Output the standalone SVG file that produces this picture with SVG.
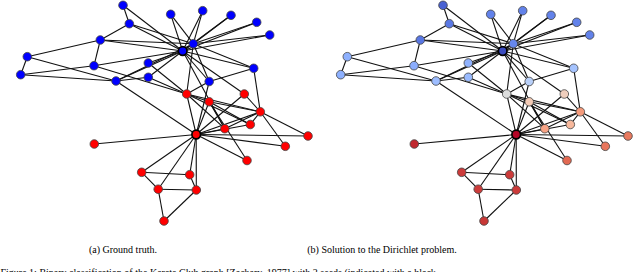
<svg xmlns="http://www.w3.org/2000/svg" xmlns:xlink="http://www.w3.org/1999/xlink" width="640" height="272" viewBox="0 0 640 272">
<style>
.e path{stroke:#111;stroke-width:1.1;fill:none}
.n{stroke:#444;stroke-width:0.8}
.s{stroke:#000;stroke-width:1.7}
.b{fill:#0000ff}
.r{fill:#ff0000}
text{font-family:"Liberation Serif","Times New Roman",serif;font-size:10px;fill:#000}
</style>
<rect width="640" height="272" fill="#fff"/>
<g id="edges-a" class="e">
<path d="M196.2 134.5L260.3 111.8"/><path d="M196.2 134.5L186.7 94"/><path d="M196.2 134.5L209.2 101.8"/><path d="M196.2 134.5L141.7 172.3"/>
<path d="M196.2 134.5L196.3 190"/><path d="M196.2 134.5L158.2 189.2"/><path d="M196.2 134.5L250.3 124.5"/><path d="M196.2 134.5L209.2 81.5"/>
<path d="M196.2 134.5L189.7 174.7"/><path d="M196.2 134.5L94.3 144"/><path d="M196.2 134.5L247 160.5"/><path d="M196.2 134.5L224.8 128.7"/>
<path d="M196.2 134.5L308 136"/><path d="M196.2 134.5L244.3 94"/><path d="M196.2 134.5L285.3 146.3"/><path d="M196.2 134.5L116 81"/>
<path d="M260.3 111.8L186.7 94"/><path d="M260.3 111.8L209.2 101.8"/><path d="M260.3 111.8L250.3 124.5"/><path d="M260.3 111.8L224.8 128.7"/>
<path d="M260.3 111.8L308 136"/><path d="M260.3 111.8L244.3 94"/><path d="M260.3 111.8L285.3 146.3"/><path d="M260.3 111.8L253.7 68.3"/>
<path d="M186.7 94L209.2 101.8"/><path d="M186.7 94L250.3 124.5"/><path d="M186.7 94L209.2 81.5"/><path d="M186.7 94L148.3 63"/>
<path d="M186.7 94L224.8 128.7"/><path d="M186.7 94L94 65.7"/><path d="M186.7 94L148.3 77.3"/><path d="M186.7 94L193.3 43.7"/>
<path d="M209.2 101.8L250.3 124.5"/><path d="M209.2 101.8L247 160.5"/><path d="M209.2 101.8L224.8 128.7"/>
<path d="M141.7 172.3L158.2 189.2"/><path d="M141.7 172.3L189.7 174.7"/>
<path d="M196.3 190L158.2 189.2"/><path d="M196.3 190L189.7 174.7"/><path d="M196.3 190L164 221"/><path d="M158.2 189.2L164 221"/>
<path d="M209.2 81.5L253.7 68.3"/><path d="M209.2 81.5L193.3 43.7"/><path d="M209.2 81.5L182.7 51"/>
<path d="M148.3 63L182.7 51"/><path d="M224.8 128.7L182.7 51"/>
<path d="M170.7 14.3L193.3 43.7"/><path d="M170.7 14.3L182.7 51"/>
<path d="M202.7 10.7L193.3 43.7"/><path d="M202.7 10.7L182.7 51"/>
<path d="M231 15.3L193.3 43.7"/><path d="M231 15.3L182.7 51"/>
<path d="M244.3 94L182.7 51"/>
<path d="M256.7 22.3L193.3 43.7"/><path d="M256.7 22.3L182.7 51"/>
<path d="M269.7 35L193.3 43.7"/><path d="M269.7 35L182.7 51"/>
<path d="M100.3 40L27.3 56.7"/><path d="M100.3 40L94 65.7"/><path d="M100.3 40L129.3 23.7"/><path d="M100.3 40L193.3 43.7"/><path d="M100.3 40L182.7 51"/>
<path d="M20.7 74.7L27.3 56.7"/><path d="M20.7 74.7L94 65.7"/><path d="M20.7 74.7L116 81"/>
<path d="M27.3 56.7L116 81"/>
<path d="M123 5.3L129.3 23.7"/><path d="M123 5.3L182.7 51"/>
<path d="M94 65.7L182.7 51"/>
<path d="M148.3 77.3L116 81"/><path d="M148.3 77.3L182.7 51"/>
<path d="M129.3 23.7L193.3 43.7"/><path d="M129.3 23.7L182.7 51"/>
<path d="M253.7 68.3L193.3 43.7"/><path d="M253.7 68.3L182.7 51"/>
<path d="M116 81L193.3 43.7"/><path d="M116 81L182.7 51"/>
<path d="M193.3 43.7L182.7 51"/>
</g>
<g id="edges-b" class="e">
<use xlink:href="#edges-a" href="#edges-a" x="320" y="0"/>
</g>
<g id="graph-a">
<g id="a0"><circle class="s r" cx="196.2" cy="134.5" r="4.3"/></g>
<g id="a1"><circle class="n r" cx="260.3" cy="111.8" r="4.3"/></g>
<g id="a2"><circle class="n r" cx="186.7" cy="94" r="4.3"/></g>
<g id="a3"><circle class="n r" cx="209.2" cy="101.8" r="4.3"/></g>
<g id="a4"><circle class="n r" cx="141.7" cy="172.3" r="4.3"/></g>
<g id="a5"><circle class="n r" cx="196.3" cy="190" r="4.3"/></g>
<g id="a6"><circle class="n r" cx="158.2" cy="189.2" r="4.3"/></g>
<g id="a7"><circle class="n r" cx="250.3" cy="124.5" r="4.3"/></g>
<g id="a8"><circle class="n b" cx="209.2" cy="81.5" r="4.3"/></g>
<g id="a9"><circle class="n b" cx="148.3" cy="63" r="4.3"/></g>
<g id="a10"><circle class="n r" cx="189.7" cy="174.7" r="4.3"/></g>
<g id="a11"><circle class="n r" cx="94.3" cy="144" r="4.3"/></g>
<g id="a12"><circle class="n r" cx="247" cy="160.5" r="4.3"/></g>
<g id="a13"><circle class="n r" cx="224.8" cy="128.7" r="4.3"/></g>
<g id="a14"><circle class="n b" cx="170.7" cy="14.3" r="4.3"/></g>
<g id="a15"><circle class="n b" cx="202.7" cy="10.7" r="4.3"/></g>
<g id="a16"><circle class="n r" cx="164" cy="221" r="4.3"/></g>
<g id="a17"><circle class="n r" cx="308" cy="136" r="4.3"/></g>
<g id="a18"><circle class="n b" cx="231" cy="15.3" r="4.3"/></g>
<g id="a19"><circle class="n r" cx="244.3" cy="94" r="4.3"/></g>
<g id="a20"><circle class="n b" cx="256.7" cy="22.3" r="4.3"/></g>
<g id="a21"><circle class="n r" cx="285.3" cy="146.3" r="4.3"/></g>
<g id="a22"><circle class="n b" cx="269.7" cy="35" r="4.3"/></g>
<g id="a23"><circle class="n b" cx="100.3" cy="40" r="4.3"/></g>
<g id="a24"><circle class="n b" cx="20.7" cy="74.7" r="4.3"/></g>
<g id="a25"><circle class="n b" cx="27.3" cy="56.7" r="4.3"/></g>
<g id="a26"><circle class="n b" cx="123" cy="5.3" r="4.3"/></g>
<g id="a27"><circle class="n b" cx="94" cy="65.7" r="4.3"/></g>
<g id="a28"><circle class="n b" cx="148.3" cy="77.3" r="4.3"/></g>
<g id="a29"><circle class="n b" cx="129.3" cy="23.7" r="4.3"/></g>
<g id="a30"><circle class="n b" cx="253.7" cy="68.3" r="4.3"/></g>
<g id="a31"><circle class="n b" cx="116" cy="81" r="4.3"/></g>
<g id="a32"><circle class="n b" cx="193.3" cy="43.7" r="4.3"/></g>
<g id="a33"><circle class="s b" cx="182.7" cy="51" r="4.3"/></g>
</g>
<g id="graph-b" transform="translate(320,0)">
<g id="b0"><circle class="s" fill="#b40426" cx="196.2" cy="134.5" r="4.3"/></g>
<g id="b1"><circle class="n" fill="#f49a7b" cx="260.3" cy="111.8" r="4.3"/></g>
<g id="b2"><circle class="n" fill="#dcdddd" cx="186.7" cy="94" r="4.3"/></g>
<g id="b3"><circle class="n" fill="#f2cab5" cx="209.2" cy="101.8" r="4.3"/></g>
<g id="b4"><circle class="n" fill="#cc3b3a" cx="141.7" cy="172.3" r="4.3"/></g>
<g id="b5"><circle class="n" fill="#cc3b3a" cx="196.3" cy="190" r="4.3"/></g>
<g id="b6"><circle class="n" fill="#cc3b3a" cx="158.2" cy="189.2" r="4.3"/></g>
<g id="b7"><circle class="n" fill="#f7b89c" cx="250.3" cy="124.5" r="4.3"/></g>
<g id="b8"><circle class="n" fill="#b9d0f9" cx="209.2" cy="81.5" r="4.3"/></g>
<g id="b9"><circle class="n" fill="#90b2fe" cx="148.3" cy="63" r="4.3"/></g>
<g id="b10"><circle class="n" fill="#cc3b3a" cx="189.7" cy="174.7" r="4.3"/></g>
<g id="b11"><circle class="n" fill="#c0282f" cx="94.3" cy="144" r="4.3"/></g>
<g id="b12"><circle class="n" fill="#e26952" cx="247" cy="160.5" r="4.3"/></g>
<g id="b13"><circle class="n" fill="#f6a385" cx="224.8" cy="128.7" r="4.3"/></g>
<g id="b14"><circle class="n" fill="#6282ea" cx="170.7" cy="14.3" r="4.3"/></g>
<g id="b15"><circle class="n" fill="#6282ea" cx="202.7" cy="10.7" r="4.3"/></g>
<g id="b16"><circle class="n" fill="#c83836" cx="164" cy="221" r="4.3"/></g>
<g id="b17"><circle class="n" fill="#e97a5f" cx="308" cy="136" r="4.3"/></g>
<g id="b18"><circle class="n" fill="#6282ea" cx="231" cy="15.3" r="4.3"/></g>
<g id="b19"><circle class="n" fill="#efcebd" cx="244.3" cy="94" r="4.3"/></g>
<g id="b20"><circle class="n" fill="#6282ea" cx="256.7" cy="22.3" r="4.3"/></g>
<g id="b21"><circle class="n" fill="#e8765c" cx="285.3" cy="146.3" r="4.3"/></g>
<g id="b22"><circle class="n" fill="#6282ea" cx="269.7" cy="35" r="4.3"/></g>
<g id="b23"><circle class="n" fill="#5977e3" cx="100.3" cy="40" r="4.3"/></g>
<g id="b24"><circle class="n" fill="#8db0fe" cx="20.7" cy="74.7" r="4.3"/></g>
<g id="b25"><circle class="n" fill="#8db0fe" cx="27.3" cy="56.7" r="4.3"/></g>
<g id="b26"><circle class="n" fill="#4961d2" cx="123" cy="5.3" r="4.3"/></g>
<g id="b27"><circle class="n" fill="#8badfd" cx="94" cy="65.7" r="4.3"/></g>
<g id="b28"><circle class="n" fill="#9abbff" cx="148.3" cy="77.3" r="4.3"/></g>
<g id="b29"><circle class="n" fill="#5a78e4" cx="129.3" cy="23.7" r="4.3"/></g>
<g id="b30"><circle class="n" fill="#a5c3fe" cx="253.7" cy="68.3" r="4.3"/></g>
<g id="b31"><circle class="n" fill="#9dbdff" cx="116" cy="81" r="4.3"/></g>
<g id="b32"><circle class="n" fill="#6687ed" cx="193.3" cy="43.7" r="4.3"/></g>
<g id="b33"><circle class="s" fill="#3b4cc0" cx="182.7" cy="51" r="4.3"/></g>
</g>
<g id="captions">
<text x="123" y="252.5" text-anchor="middle">(a) Ground truth.</text>
<text x="382" y="252.5" text-anchor="middle">(b) Solution to the Dirichlet problem.</text>
<text x="0.5" y="276">Figure 1: Binary classification of the Karate Club graph [Zachary, 1977] with 2 seeds (indicated with a black</text>
</g>
</svg>
